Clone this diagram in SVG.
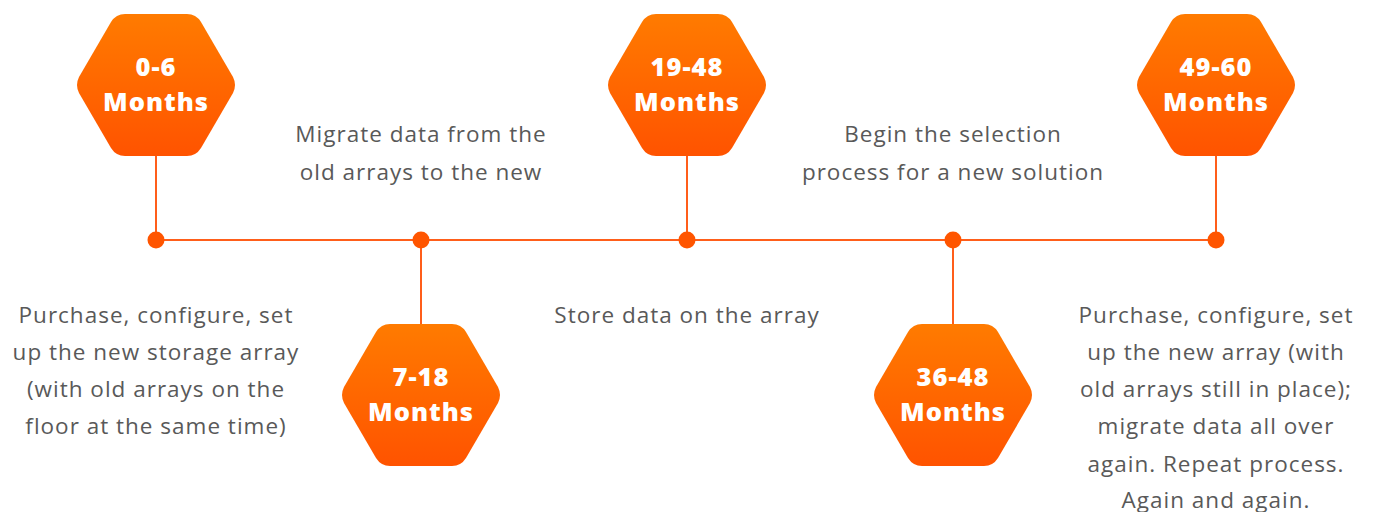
<svg xmlns="http://www.w3.org/2000/svg" width="1374" height="512" viewBox="0 0 1374 512">
<defs>
<linearGradient id="hg" x1="0" y1="0" x2="0" y2="1">
<stop offset="0" stop-color="#FF7B00"/>
<stop offset="1" stop-color="#FF5300"/>
</linearGradient>
<path id="hex" d="M-31,-71 L31,-71 Q40,-71 45,-63 L77,-8 Q81,0 77,8 L45,63 Q40,71 31,71 L-31,71 Q-40,71 -45,63 L-77,8 Q-81,0 -77,-8 L-45,-63 Q-40,-71 -31,-71 Z"/>
</defs>
<style>
.hx{fill:url(#hg);}
.ht{font-family:"Open Sans",Lato,sans-serif;font-weight:800;font-size:25.5px;letter-spacing:1px;fill:#fff;text-anchor:middle;}
.bt{font-family:"Open Sans",Lato,sans-serif;font-size:22.5px;letter-spacing:1px;fill:#595959;text-anchor:middle;}
.ln{stroke:#FF5E1A;stroke-width:2;fill:none;}
.dot{fill:#FF5500;}
</style>
<g id="connectors">
<line class="ln" x1="156" y1="240" x2="1216" y2="240"/>
<line class="ln" x1="156" y1="150" x2="156" y2="240"/>
<line class="ln" x1="421" y1="240" x2="421" y2="330"/>
<line class="ln" x1="687" y1="150" x2="687" y2="240"/>
<line class="ln" x1="953" y1="240" x2="953" y2="330"/>
<line class="ln" x1="1216" y1="150" x2="1216" y2="240"/>
<circle class="dot" cx="156" cy="240" r="8.5"/>
<circle class="dot" cx="421" cy="240" r="8.5"/>
<circle class="dot" cx="687" cy="240" r="8.5"/>
<circle class="dot" cx="953" cy="240" r="8.5"/>
<circle class="dot" cx="1216" cy="240" r="8.5"/>
</g>
<g id="n1"><use href="#hex" class="hx" x="156" y="85"/><text class="ht" x="156" y="76">0-6</text><text class="ht" x="156" y="111">Months</text></g>
<g id="n2"><use href="#hex" class="hx" x="421" y="395"/><text class="ht" x="421" y="386">7-18</text><text class="ht" x="421" y="421">Months</text></g>
<g id="n3"><use href="#hex" class="hx" x="687" y="85"/><text class="ht" x="687" y="76">19-48</text><text class="ht" x="687" y="111">Months</text></g>
<g id="n4"><use href="#hex" class="hx" x="953" y="395"/><text class="ht" x="953" y="386">36-48</text><text class="ht" x="953" y="421">Months</text></g>
<g id="n5"><use href="#hex" class="hx" x="1216" y="85"/><text class="ht" x="1216" y="76">49-60</text><text class="ht" x="1216" y="111">Months</text></g>
<g id="t1"><text class="bt" x="156"><tspan x="156" y="323">Purchase, configure, set</tspan><tspan x="156" y="360">up the new storage array</tspan><tspan x="156" y="397">(with old arrays on the</tspan><tspan x="156" y="434">floor at the same time)</tspan></text></g>
<g id="t2"><text class="bt"><tspan x="421" y="142">Migrate data from the</tspan><tspan x="421" y="180">old arrays to the new</tspan></text></g>
<g id="t3"><text class="bt" x="687" y="323">Store data on the array</text></g>
<g id="t4"><text class="bt"><tspan x="953" y="142">Begin the selection</tspan><tspan x="953" y="180">process for a new solution</tspan></text></g>
<g id="t5"><text class="bt"><tspan x="1216" y="323">Purchase, configure, set</tspan><tspan x="1216" y="360">up the new array (with</tspan><tspan x="1216" y="397">old arrays still in place);</tspan><tspan x="1216" y="434">migrate data all over</tspan><tspan x="1216" y="472">again. Repeat process.</tspan><tspan x="1216" y="508">Again and again.</tspan></text></g>
</svg>
